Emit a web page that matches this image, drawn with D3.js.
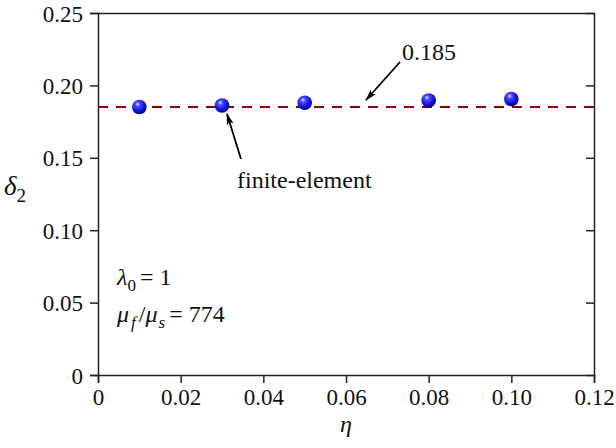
<!DOCTYPE html>
<html>
<head>
<meta charset="utf-8">
<script src="https://cdn.jsdelivr.net/npm/d3@7"></script>
</head>
<body style="margin:0">
<svg id="chart" width="616" height="448"></svg>
<script>
// data
var etaValues   = [0.01, 0.03, 0.05, 0.08, 0.10]
var deltaValues = [0.1851, 0.1861, 0.1880, 0.1896, 0.1906]
var refLine     = 0.185
var xTicks      = [0, 0.02, 0.04, 0.06, 0.08, 0.10, 0.12]
var xTickLabels = ["0", "0.02", "0.04", "0.06", "0.08", "0.10", "0.12"]
var yTicks      = [0, 0.05, 0.10, 0.15, 0.20, 0.25]
var yTickLabels = ["0", "0.05", "0.10", "0.15", "0.20", "0.25"]

var serif = "Liberation Serif"

var margin = {left: 98, right: 22, top: 13, bottom: 73}
var width  = 616 - margin.left - margin.right
var height = 448 - margin.top - margin.bottom

var svg = d3.select("#chart")
var g = svg.append("g").attr("transform", "translate(" + margin.left + "," + margin.top + ")")

var xScale = d3.scaleLinear().domain([0, 0.12]).range([0, width])
var yScale = d3.scaleLinear().domain([0, 0.25]).range([height, 0])

// sphere gradient for markers
var defs = svg.append("defs")
var grad = defs.append("radialGradient").attr("id", "ball")
    .attr("cx", "40%").attr("cy", "35%").attr("r", "65%").attr("fx", "38%").attr("fy", "30%")
grad.append("stop").attr("offset", "0%").attr("stop-color", "#e8e8ff")
grad.append("stop").attr("offset", "25%").attr("stop-color", "#4a4aff")
grad.append("stop").attr("offset", "70%").attr("stop-color", "#1010e0")
grad.append("stop").attr("offset", "100%").attr("stop-color", "#00007a")

defs.append("marker").attr("id", "arrow")
    .attr("viewBox", "0 0 12 10").attr("refX", 11).attr("refY", 5)
    .attr("markerWidth", 12).attr("markerHeight", 10)
    .attr("markerUnits", "userSpaceOnUse")
    .attr("orient", "auto")
    .append("path").attr("d", "M0,1.5 L12,5 L0,8.5 L3,5 Z").attr("fill", "#000")

// axes
var axisColor = "#222"
var xAxis = g.append("g").attr("transform", "translate(0," + height + ")")
    .call(d3.axisBottom(xScale).tickValues(xTicks).tickSize(8).tickPadding(6)
        .tickFormat(function(d, i){ return xTickLabels[i] }))
var yAxis = g.append("g")
    .call(d3.axisLeft(yScale).tickValues(yTicks).tickSize(8).tickPadding(7)
        .tickFormat(function(d, i){ return yTickLabels[i] }))
var yRight = g.append("g").attr("transform", "translate(" + width + ",0)")
    .call(d3.axisLeft(yScale).tickValues(yTicks).tickSize(8).tickFormat(""))
var xTop = g.append("g")
    .call(d3.axisTop(xScale).tickValues([]).tickSizeOuter(0))

;[xAxis, yAxis, yRight, xTop].forEach(function(a){
    a.attr("font-family", serif).attr("font-size", 23)
    a.select(".domain").attr("stroke", axisColor).attr("stroke-width", 1.5)
    a.selectAll(".tick line").attr("stroke", axisColor).attr("stroke-width", 1.5)
    a.selectAll("text").attr("fill", "#111").attr("font-family", serif).attr("font-size", 23)
})
yAxis.selectAll(".tick text").attr("dy", "0.35em")
yRight.selectAll(".tick").filter(function(d){ return d === 0 || d === 0.25 }).remove()

// reference dashed line
g.append("line")
    .attr("x1", 0).attr("x2", width)
    .attr("y1", yScale(refLine)).attr("y2", yScale(refLine))
    .attr("stroke", "#8b0000").attr("stroke-width", 2)
    .attr("stroke-dasharray", "10,8")

// points
g.selectAll("circle.pt")
    .data(etaValues)
    .enter()
        .append("circle")
        .attr("class", "pt")
        .attr("cx", function(d){ return xScale(d) })
        .attr("cy", function(d, i){ return yScale(deltaValues[i]) })
        .attr("r", 7.3)
        .attr("fill", "url(#ball)")

function label(x, y, size)
{
    return svg.append("text").attr("x", x).attr("y", y).attr("fill", "#111")
        .attr("font-family", serif).attr("font-size", size)
}

// annotations
svg.append("line").attr("x1", 400).attr("y1", 62).attr("x2", 366).attr("y2", 100)
    .attr("stroke", "#000").attr("stroke-width", 1.8).attr("marker-end", "url(#arrow)")
label(402, 60, 24).text("0.185")

svg.append("line").attr("x1", 241).attr("y1", 159).attr("x2", 227).attr("y2", 114)
    .attr("stroke", "#000").attr("stroke-width", 1.8).attr("marker-end", "url(#arrow)")
label(237, 188, 24).text("finite-element")

// parameter text
var p1 = label(117, 285, 24)
p1.append("tspan").attr("font-style", "italic").text("λ")
p1.append("tspan").attr("dy", 6).attr("font-size", 17).text("0")
p1.append("tspan").attr("dx", 4).attr("dy", -6).text("= 1")

var p2 = label(117, 322, 24)
p2.append("tspan").attr("font-style", "italic").text("μ")
p2.append("tspan").attr("dx", 2).attr("dy", 6).attr("font-size", 17).attr("font-style", "italic").text("f")
p2.append("tspan").attr("dx", 3).attr("dy", -6).text("/")
p2.append("tspan").attr("font-style", "italic").text("μ")
p2.append("tspan").attr("dx", 1).attr("dy", 6).attr("font-size", 17).attr("font-style", "italic").text("s")
p2.append("tspan").attr("dx", 4).attr("dy", -6).text("= 774")

// axis titles
var yl = label(4, 195, 27)
yl.append("tspan").attr("font-style", "italic").text("δ")
yl.append("tspan").attr("dy", 7).attr("font-size", 19).text("2")

label(margin.left + xScale(0.06), 432, 24)
    .attr("text-anchor", "middle").attr("font-style", "italic").text("η")
</script>
</body>
</html>
